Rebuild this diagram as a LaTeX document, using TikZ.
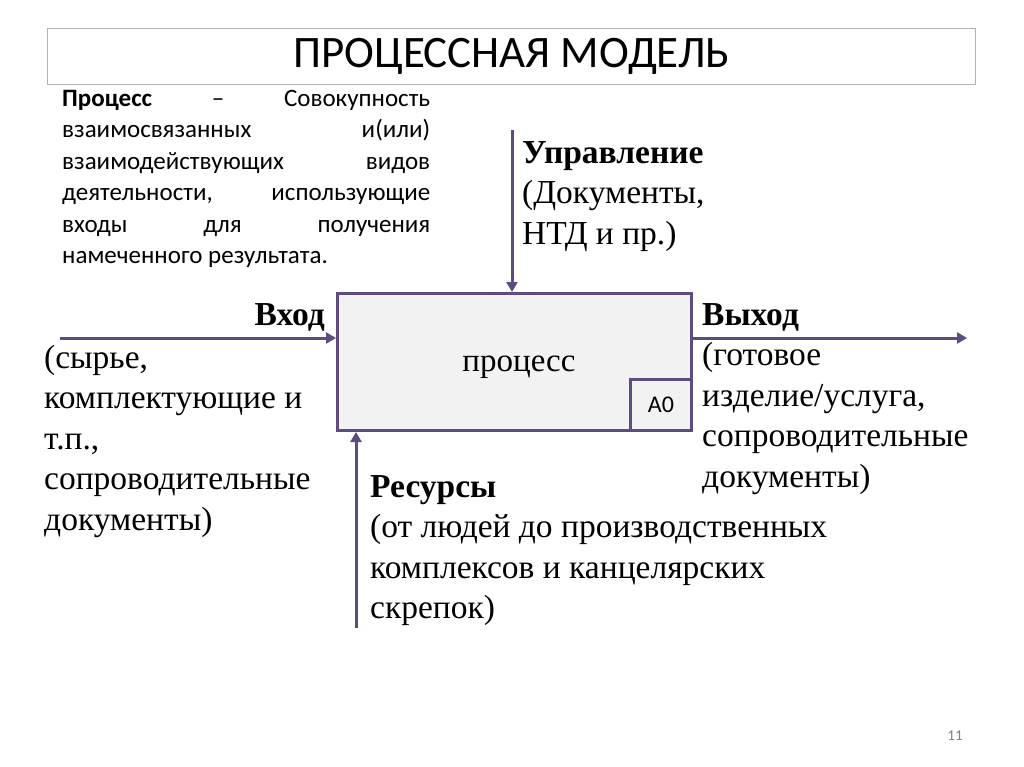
\documentclass[tikz,border=0pt]{standalone}
\usepackage{fontspec}
\setmainfont{Liberation Serif}
\newfontfamily\calfont{Carlito}
\usetikzlibrary{arrows.meta}
\definecolor{pc}{HTML}{5E4B82}
\tikzset{
 arr/.style={pc,line width=3pt,-{Triangle[length=10pt,width=11pt]}},
 lbl/.style={font=\fontsize{33.5}{40.5}\selectfont,inner sep=0pt,align=left},
}
\begin{document}
\begin{tikzpicture}[x=1pt,y=-1pt]
\useasboundingbox[fill=white] (0,0) rectangle (1024,767);
\node[draw=gray!60,line width=1pt,minimum width=928pt,minimum height=56pt,anchor=north west,inner sep=0pt] (title) at (47,28) {};
\node[font=\calfont\fontsize{45}{48}\selectfont] at (title.center) {ПРОЦЕССНАЯ МОДЕЛЬ};
\node[anchor=north west,text width=368pt,inner sep=0pt,align=justify,font=\calfont\fontsize{25}{31.5}\selectfont] (def) at (62,90)
 {\textbf{Процесс} – Совокупность взаимосвязанных и(или) взаимодействующих видов деятельности, использующие входы для получения намеченного результата.};
\node[draw=pc,fill=black!5,line width=3pt,minimum width=354pt,minimum height=137pt,anchor=north west,inner sep=0pt] (proc) at (336,292) {};
\node[font=\fontsize{33}{36}\selectfont] at (519,367) {процесс};
\node[draw=pc,line width=3pt,minimum width=61pt,minimum height=51pt,anchor=south east,inner sep=0pt,font=\calfont\fontsize{24}{26}\selectfont] (a0) at (proc.south east) {A0};
\coordinate (ctop) at (512,130);
\coordinate (inl) at (60,338);
\coordinate (outr) at (967,338);
\coordinate (rbot) at (356,628);
\draw[arr] (ctop) -- (ctop|-proc.north);
\draw[arr] (inl) -- (inl-|proc.west);
\draw[arr] (inl-|proc.east) -- (outr);
\draw[arr] (rbot) -- (rbot|-proc.south);
\node[lbl,anchor=north west] (upr) at (522,141) {\textbf{Управление}\\(Документы,\\НТД и пр.)};
\node[lbl,anchor=north east] (vh) at (325,303) {\textbf{Вход}};
\node[lbl,anchor=north west] (vht) at (44,345) {(сырье,\\комплектующие и\\т.п.,\\сопроводительные\\документы)};
\node[lbl,anchor=north west] (vyh) at (702,303) {\textbf{Выход}\\(готовое\\изделие/услуга,\\сопроводительные\\документы)};
\node[lbl,anchor=north west] (res) at (370,475) {\textbf{Ресурсы}\\(от людей до производственных\\комплексов и канцелярских\\скрепок)};
\node[font=\calfont\fontsize{15}{17}\selectfont,text=gray] at (955,736) {11};
\end{tikzpicture}
\end{document}
